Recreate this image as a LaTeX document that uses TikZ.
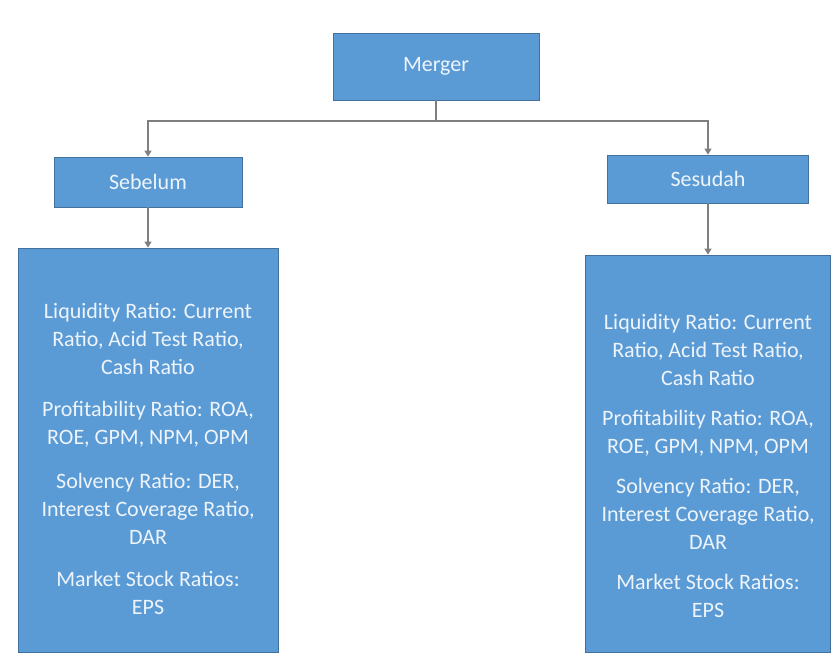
\documentclass[tikz,border=0pt]{standalone}
\usepackage{fontspec}
\setmainfont{Carlito}
\usetikzlibrary{positioning,arrows.meta}
\definecolor{boxblue}{HTML}{5B9BD5}
\definecolor{boxedge}{HTML}{41719C}
\definecolor{boxtext}{HTML}{EEF4FB}
\definecolor{linkgray}{HTML}{7F7F7F}

\begin{document}
\begin{tikzpicture}[x=1pt, y=-1pt,
    block/.style={draw=boxedge, fill=boxblue, line width=0.8pt, text=boxtext,
                  font=\fontsize{22}{28}\selectfont, align=center, inner sep=0pt},
    link/.style={draw=linkgray, line width=1.3pt, -{Triangle[width=7pt,length=6pt]}}]
  \useasboundingbox (0,0) rectangle (833,654);
  \node[block, minimum width=206pt, minimum height=67pt] (merger) at (436,66.5) {Merger};
  \node[block, minimum width=188pt, minimum height=50pt] (sebelum) at (148,182) {Sebelum};
  \node[block, minimum width=201pt, minimum height=48pt] (sesudah) at (708,179) {Sesudah};
  \node[block, minimum width=260pt, minimum height=404pt] (before) at (148,450) {
    \mbox{}\\[6pt]
    Liquidity Ratio: Current\\ Ratio, Acid Test Ratio,\\ Cash Ratio\\[14pt]
    Profitability Ratio: ROA,\\ ROE, GPM, NPM, OPM\\[16pt]
    Solvency Ratio: DER,\\ Interest Coverage Ratio,\\ DAR\\[14pt]
    Market Stock Ratios:\\ EPS};
  \node[block, minimum width=245pt, minimum height=397pt] (after) at (708,453.5) {
    \mbox{}\\[12pt]
    Liquidity Ratio: Current\\ Ratio, Acid Test Ratio,\\ Cash Ratio\\[12pt]
    Profitability Ratio: ROA,\\ ROE, GPM, NPM, OPM\\[12pt]
    Solvency Ratio: DER,\\ Interest Coverage Ratio,\\ DAR\\[12pt]
    Market Stock Ratios:\\ EPS};
  \coordinate (bus) at (436,121);
  % branches
  \draw[link] (merger.south) -- (bus) -| (sebelum.north);
  \draw[link] (bus) -| (sesudah.north);
  \draw[link] (sebelum.south) -- (before.north);
  \draw[link] (sesudah.south) -- (after.north);
\end{tikzpicture}
\end{document}
